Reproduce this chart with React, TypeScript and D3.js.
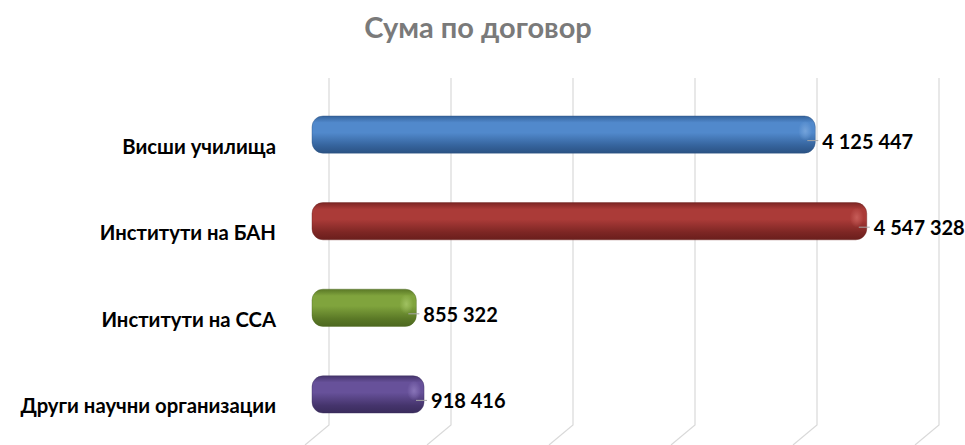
import React, { useEffect, useRef } from "react";
import * as d3 from "d3";

const categories = [
  "Висши училища",
  "Институти на БАН",
  "Институти на ССА",
  "Други научни организации",
];
const values = [4125447, 4547328, 855322, 918416];
const valueLabels = ["4 125 447", "4 547 328", "855 322", "918 416"];
const ticks = [0, 1000000, 2000000, 3000000, 4000000, 5000000];

const palette = [
  { top: "#35639c", mid: "#5189cc", bottom: "#2b5283", hi: "#78a6dc" },
  { top: "#7d2624", mid: "#ab3b38", bottom: "#6a1e1c", hi: "#c9605c" },
  { top: "#5a7826", mid: "#80a43d", bottom: "#4d6820", hi: "#a3c465" },
  { top: "#45346c", mid: "#67519a", bottom: "#3a2c5c", hi: "#8c78bb" },
];

const App = () => {
  const svgRef = useRef<SVGSVGElement>(null);

  useEffect(() => {
    const width = 965;
    const height = 445;
    const depth = { dx: 17, dy: 14 };
    const font = "Lato, sans-serif";

    const svg = d3.select(svgRef.current);
    svg.selectAll("*").remove();
    svg.attr("width", width).attr("height", height);

    const x = d3.scaleLinear().domain([0, 5000000]).range([312, 922]);
    const y = d3
      .scaleBand()
      .domain(categories)
      .range([90, 439])
      .paddingInner(0.57)
      .paddingOuter(0.3);

    const defs = svg.append("defs");
    palette.forEach((c, i) => {
      const g = defs
        .append("linearGradient")
        .attr("id", `bar${i}`)
        .attr("x1", 0)
        .attr("y1", 0)
        .attr("x2", 0)
        .attr("y2", 1);
      g.append("stop").attr("offset", "0%").attr("stop-color", c.top);
      g.append("stop").attr("offset", "18%").attr("stop-color", c.mid);
      g.append("stop").attr("offset", "45%").attr("stop-color", c.mid);
      g.append("stop").attr("offset", "80%").attr("stop-color", c.top);
      g.append("stop").attr("offset", "100%").attr("stop-color", c.bottom);

      const r = defs
        .append("radialGradient")
        .attr("id", `hi${i}`)
        .attr("cx", 0.5)
        .attr("cy", 0.5)
        .attr("r", 0.5);
      r.append("stop").attr("offset", "0%").attr("stop-color", c.hi).attr("stop-opacity", 0.9);
      r.append("stop").attr("offset", "100%").attr("stop-color", c.hi).attr("stop-opacity", 0);
    });

    // title
    svg
      .append("text")
      .attr("x", 478)
      .attr("y", 38)
      .attr("text-anchor", "middle")
      .attr("font-family", font)
      .attr("font-weight", "bold")
      .attr("font-size", 29)
      .attr("fill", "#7a7a7a")
      .text("Сума по договор");

    // gridlines on back wall + floor
    const wallTop = 78;
    const wallBottom = 425;
    const grid = svg.append("g").attr("stroke", "#d9d9d9").attr("stroke-width", 1.2).attr("fill", "none");
    ticks.forEach((t) => {
      const gx = x(t) + depth.dx;
      grid
        .append("path")
        .attr("d", `M${gx},${wallTop}L${gx},${wallBottom}L${gx - 24},${wallBottom + 20}`);
    });

    // bars
    const bars = svg.append("g");
    categories.forEach((cat, i) => {
      const by = y(cat)!;
      const bh = y.bandwidth();
      const cy = by + bh / 2;
      const x0 = x(0);
      const x1 = x(values[i]);
      bars
        .append("rect")
        .attr("x", x0)
        .attr("y", by)
        .attr("width", x1 - x0)
        .attr("height", bh)
        .attr("rx", 11)
        .attr("ry", 11)
        .attr("fill", `url(#bar${i})`)
        .attr("stroke", palette[i].bottom)
        .attr("stroke-opacity", 0.4);
      bars
        .append("ellipse")
        .attr("cx", x1 - 10)
        .attr("cy", by + bh * 0.4)
        .attr("rx", 7)
        .attr("ry", 10)
        .attr("fill", `url(#hi${i})`);

      // leader line
      bars
        .append("line")
        .attr("x1", x1 - 8)
        .attr("y1", cy + 6)
        .attr("x2", x1 + 3)
        .attr("y2", cy + 6)
        .attr("stroke", "#a6a6a6")
        .attr("stroke-width", 1);

      svg
        .append("text")
        .attr("x", x1 + 7)
        .attr("y", cy + 14)
        .attr("font-family", font)
        .attr("font-weight", "bold")
        .attr("font-size", 20)
        .attr("fill", "#000")
        .text(valueLabels[i]);

      svg
        .append("text")
        .attr("x", 276)
        .attr("y", cy + 19)
        .attr("text-anchor", "end")
        .attr("font-family", font)
        .attr("font-weight", "bold")
        .attr("font-size", 20.3)
        .attr("fill", "#000")
        .text(cat);
    });
  }, []);

  return (
    <div style={{ position: "fixed", left: 0, top: 0, width: 965, height: 445, background: "#fff" }}>
      <svg ref={svgRef}></svg>
    </div>
  );
};

export default App;
